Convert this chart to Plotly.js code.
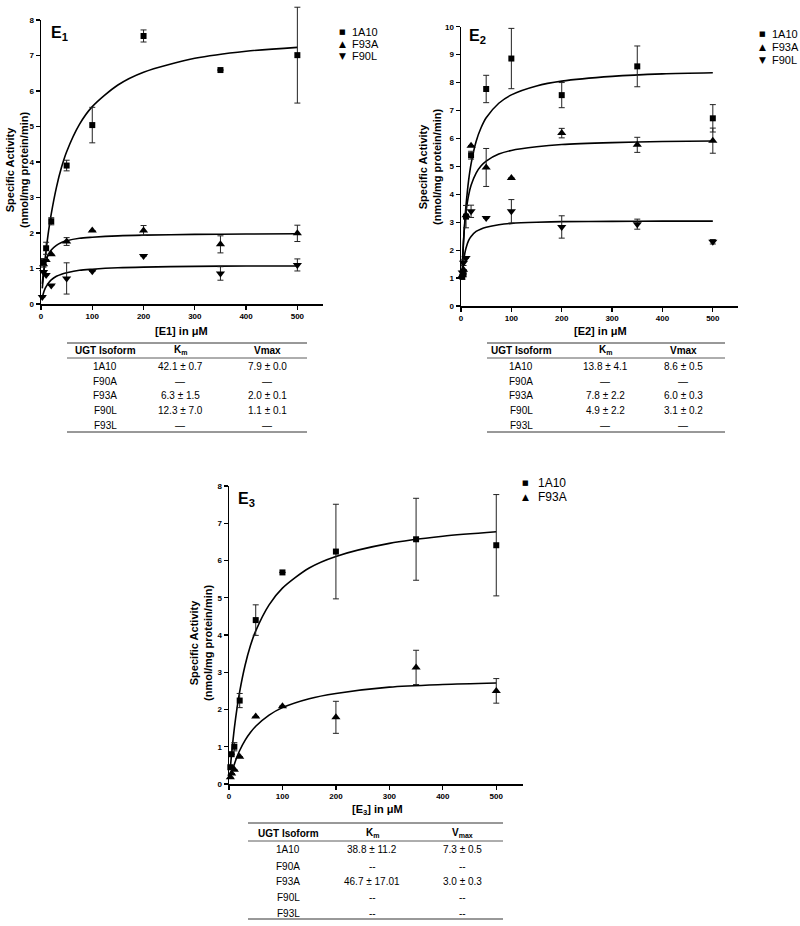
<!DOCTYPE html>
<html>
<head>
<meta charset="utf-8">
<script src="https://cdn.plot.ly/plotly-3.0.1.min.js"></script>
<style>
  html, body { margin: 0; padding: 0; background: #fff; }
  #chart { width: 800px; height: 926px; }
</style>
</head>
<body>
<div id="chart"></div>
<script>
// Substrate concentrations (uM)
const conc = [2.5, 5, 10, 20, 50, 100, 200, 350, 500];

// Panel E1 measured activity (nmol/mg protein/min) and SEM
const e1_1A10 = [null, 1.18, 1.57, 2.33, 3.90, 5.04, 7.55, 6.59, 7.01];
const e1_1A10_err = [0, 0.10, 0.17, 0.10, 0.15, 0.50, 0.17, 0, 1.35];
const e1_F93A = [null, 1.12, 1.24, 1.40, 1.76, 2.07, 2.07, 1.68, 1.99];
const e1_F93A_err = [0, 0.08, 0, 0, 0.11, 0, 0.14, 0.24, 0.23];
const e1_F90L = [0.20, 0.90, 0.82, 0.52, 0.72, 0.92, 1.35, 0.86, 1.10];
const e1_F90L_err = [0, 0, 0, 0, 0.44, 0, 0, 0.19, 0.17];

// Panel E2
const e2_1A10 = [1.05, 1.15, 3.20, 5.40, 7.77, 8.86, 7.55, 8.58, 6.72];
const e2_1A10_err = [0.10, 0, 0.40, 0.14, 0.49, 1.08, 0.45, 0.73, 0.49];
const e2_F93A = [1.10, 1.30, 3.25, 5.74, 4.96, 4.58, 6.19, 5.77, 5.92];
const e2_F93A_err = [0, 0, 0, 0, 0.68, 0, 0.17, 0.27, 0.45];
const e2_F90L = [1.20, 1.55, 1.72, 3.39, 3.15, 3.39, 2.83, 2.93, 2.30];
const e2_F90L_err = [0, 0.10, 0, 0.22, 0, 0.42, 0.40, 0.18, 0.08];

// Panel E3
const e3_1A10 = [0.45, 0.80, 1.00, 2.24, 4.40, 5.68, 6.24, 6.57, 6.41];
const e3_1A10_err = [0, 0, 0.11, 0.19, 0.41, 0, 1.27, 1.10, 1.36];
const e3_F93A = [0.18, 0.28, 0.38, 0.73, 1.81, 2.09, 1.79, 3.13, 2.50];
const e3_F93A_err = [0, 0, 0, 0, 0, 0, 0.43, 0.46, 0.33];

// Fitted curves
const fitX = [2.5, 5, 7.5, 10, 15, 20, 30, 40, 50, 75, 100, 150, 200, 300, 400, 500];
const fit_e1_1A10 = [0.44, 0.84, 1.19, 1.52, 2.08, 2.54, 3.28, 3.85, 4.29, 5.06, 5.56, 6.17, 6.53, 6.92, 7.12, 7.23];
const fit_e1_F93A = [0.57, 0.89, 1.09, 1.23, 1.41, 1.52, 1.65, 1.73, 1.78, 1.85, 1.88, 1.92, 1.94, 1.96, 1.97, 1.98];
const fit_e1_F90L = [0.19, 0.32, 0.42, 0.49, 0.60, 0.68, 0.78, 0.84, 0.88, 0.95, 0.98, 1.02, 1.04, 1.06, 1.07, 1.07];
const fit_e2_1A10 = [1.32, 2.29, 3.03, 3.61, 4.48, 5.09, 5.89, 6.39, 6.74, 7.26, 7.56, 7.88, 8.05, 8.22, 8.31, 8.35];
const fit_e2_F93A = [1.46, 2.34, 2.94, 3.37, 3.95, 4.32, 4.76, 5.02, 5.19, 5.44, 5.57, 5.70, 5.78, 5.85, 5.89, 5.91];
const fit_e2_F90L = [1.05, 1.57, 1.88, 2.08, 2.34, 2.49, 2.67, 2.76, 2.82, 2.91, 2.96, 3.00, 3.02, 3.03, 3.04, 3.04];
const fit_e3_1A10 = [0.44, 0.83, 1.18, 1.50, 2.04, 2.48, 3.18, 3.71, 4.11, 4.81, 5.26, 5.80, 6.11, 6.46, 6.65, 6.77];
const fit_e3_F93A = [0.15, 0.29, 0.42, 0.53, 0.73, 0.90, 1.17, 1.38, 1.55, 1.85, 2.05, 2.29, 2.43, 2.60, 2.67, 2.71];

// Kinetic parameter tables
const isoforms = ['1A10', 'F90A', 'F93A', 'F90L', 'F93L'];
const e1_km = ['42.1 ± 0.7', '—', '6.3 ± 1.5', '12.3 ± 7.0', '—'];
const e1_vmax = ['7.9 ± 0.0', '—', '2.0 ± 0.1', '1.1 ± 0.1', '—'];
const e2_km = ['13.8 ± 4.1', '—', '7.8 ± 2.2', '4.9 ± 2.2', '—'];
const e2_vmax = ['8.6 ± 0.5', '—', '6.0 ± 0.3', '3.1 ± 0.2', '—'];
const e3_km = ['38.8 ± 11.2', '--', '46.7 ± 17.01', '--', '--'];
const e3_vmax = ['7.3 ± 0.5', '--', '3.0 ± 0.3', '--', '--'];

const W = 800, H = 926;
const FONT = 'Liberation Sans, Arial, sans-serif';
const px = x => x / W;
const py = y => 1 - y / H;

const symbols = { '1A10': 'square', 'F93A': 'triangle-up', 'F90L': 'triangle-down' };
const sizes = { '1A10': 6, 'F93A': 8, 'F90L': 8 };

function points(name, y, err, xa, ya) {
  return {
    x: conc, y: y, name: name,
    xaxis: xa, yaxis: ya,
    type: 'scatter', mode: 'markers', cliponaxis: false, showlegend: false,
    marker: { symbol: symbols[name], size: sizes[name], color: '#000' },
    error_y: { type: 'data', array: err, visible: true, color: '#222', thickness: 1, width: 3 }
  };
}

function curve(y, xa, ya) {
  return {
    x: fitX, y: y, xaxis: xa, yaxis: ya,
    type: 'scatter', mode: 'lines', showlegend: false, hoverinfo: 'skip',
    line: { color: '#000', width: 1.6, shape: 'spline', smoothing: 0.8 }
  };
}

const traces = [
  curve(fit_e1_1A10, 'x', 'y'), curve(fit_e1_F93A, 'x', 'y'), curve(fit_e1_F90L, 'x', 'y'),
  // 1A10 on a taller twin axis so its top error bar can pass the axis end
  points('1A10', e1_1A10, e1_1A10_err, 'x', 'y4'),
  points('F93A', e1_F93A, e1_F93A_err, 'x', 'y'),
  points('F90L', e1_F90L, e1_F90L_err, 'x', 'y'),
  curve(fit_e2_1A10, 'x2', 'y2'), curve(fit_e2_F93A, 'x2', 'y2'), curve(fit_e2_F90L, 'x2', 'y2'),
  points('1A10', e2_1A10, e2_1A10_err, 'x2', 'y2'),
  points('F93A', e2_F93A, e2_F93A_err, 'x2', 'y2'),
  points('F90L', e2_F90L, e2_F90L_err, 'x2', 'y2'),
  curve(fit_e3_1A10, 'x3', 'y3'), curve(fit_e3_F93A, 'x3', 'y3'),
  points('1A10', e3_1A10, e3_1A10_err, 'x3', 'y3'),
  points('F93A', e3_F93A, e3_F93A_err, 'x3', 'y3')
];

function xAxis(domain, anchor) {
  return {
    domain: domain, anchor: anchor, range: [0, 550],
    tickmode: 'linear', tick0: 0, dtick: 100,
    showline: true, linecolor: '#000', linewidth: 1.5,
    ticks: 'outside', ticklen: 4, tickwidth: 1.2, tickcolor: '#000',
    showgrid: false, zeroline: false,
    tickfont: { family: FONT, size: 8, weight: 'bold', color: '#000' }
  };
}
function yAxis(domain, anchor, top) {
  return {
    domain: domain, anchor: anchor, range: [0, top],
    tickmode: 'linear', tick0: 0, dtick: 1,
    showline: true, linecolor: '#000', linewidth: 1.5,
    ticks: 'outside', ticklen: 4, tickwidth: 1.2, tickcolor: '#000',
    showgrid: false, zeroline: false,
    tickfont: { family: FONT, size: 8, weight: 'bold', color: '#000' }
  };
}

const annotations = [];
const shapes = [];

function ann(x, y, text, size, opts) {
  annotations.push(Object.assign({
    xref: 'paper', yref: 'paper', x: px(x), y: py(y), text: text,
    showarrow: false, xanchor: 'center', yanchor: 'middle',
    font: { family: FONT, size: size, color: '#000' }
  }, opts || {}));
}

// Panel labels
ann(49, 33, '<b>E<sub>1</sub></b>', 16, { xanchor: 'left' });
ann(467, 37, '<b>E<sub>2</sub></b>', 16, { xanchor: 'left' });
ann(236, 499, '<b>E<sub>3</sub></b>', 16, { xanchor: 'left' });

// Y axis titles
const yTitle = '<b>Specific Activity<br>(nmol/mg protein/min)</b>';
ann(17, 170, yTitle, 11, { textangle: -90 });
ann(430, 167, yTitle, 11, { textangle: -90 });
ann(201, 643, yTitle, 11, { textangle: -90 });

// X axis titles
ann(181, 331, '<b>[E1] in μM</b>', 11);
ann(600, 331, '<b>[E2] in μM</b>', 11);
ann(377, 810, '<b>[E<sub>3</sub>] in μM</b>', 11);

// Legends
const glyph = { '1A10': '■', 'F93A': '▲', 'F90L': '▼' };
function legend(names, gx, tx, ys, size) {
  names.forEach((n, i) => {
    const gs = n === '1A10' ? 7 : 9;
    ann(gx, ys[i], glyph[n], gs, { font: { family: 'DejaVu Sans', size: gs, color: '#000' } });
    ann(tx, ys[i], n, size, { xanchor: 'left' });
  });
}
legend(['1A10', 'F93A', 'F90L'], 342, 350, [32, 44, 56], 11);
legend(['1A10', 'F93A', 'F90L'], 762, 770, [34, 47, 60], 11);
legend(['1A10', 'F93A'], 525, 536, [483, 497], 12);

// Tables
function table(cols, x0, x1, yTop, yHead, yHeadLine, rowYs, yBottom, heads, km, vmax) {
  [yTop, yHeadLine, yBottom].forEach((y, i) => {
    shapes.push({ type: 'line', xref: 'paper', yref: 'paper', x0: px(x0), x1: px(x1), y0: py(y), y1: py(y),
      line: { color: '#333', width: i === 1 ? 0.8 : 1 } });
  });
  heads.forEach((h, i) => ann(cols[i], yHead, '<b>' + h + '</b>', 10));
  isoforms.forEach((iso, r) => {
    ann(cols[0], rowYs[r], iso, 10);
    ann(cols[1], rowYs[r], km[r], 10);
    ann(cols[2], rowYs[r], vmax[r], 10);
  });
}
table([105, 180, 267], 67, 307, 343, 350, 358, [366, 381, 395, 410, 425], 432,
  ['UGT Isoform', 'K<sub>m</sub>', 'Vmax'], e1_km, e1_vmax);
table([521, 605, 683], 487, 725, 343, 350, 358, [366, 381, 395, 410, 425], 432,
  ['UGT Isoform', 'K<sub>m</sub>', 'Vmax'], e2_km, e2_vmax);
table([288, 372, 462], 248, 503, 823, 833, 841, [849, 866, 881, 897, 913], 919,
  ['UGT Isoform', 'K<sub>m</sub>', 'V<sub>max</sub>'], e3_km, e3_vmax);

// E1 plot frame: y = 0 at 304 px, y = 8 at 20 px; twin axis reaches 4 px with the same scale
const e1Bottom = 304, e1Top = 20, e1TwinTop = 4;
const e1TwinRange = 8 * (e1Bottom - e1TwinTop) / (e1Bottom - e1Top);

const twin = yAxis([py(e1Bottom), py(e1TwinTop)], 'x', e1TwinRange);
Object.assign(twin, { visible: false, showline: false, ticks: '', showticklabels: false });

const layout = {
  width: W, height: H,
  margin: { l: 0, r: 0, t: 0, b: 0 },
  paper_bgcolor: '#fff', plot_bgcolor: 'rgba(0,0,0,0)',
  showlegend: false,
  font: { family: FONT, color: '#000' },
  xaxis: xAxis([px(41), px(323)], 'y'),
  yaxis: yAxis([py(e1Bottom), py(e1Top)], 'x', 8),
  xaxis2: xAxis([px(461), px(738)], 'y2'),
  yaxis2: yAxis([py(306), py(26.7)], 'x2', 10),
  xaxis3: xAxis([px(229), px(523)], 'y3'),
  yaxis3: yAxis([py(784), py(486)], 'x3', 8),
  yaxis4: twin,
  annotations: annotations,
  shapes: shapes
};

Plotly.newPlot('chart', traces, layout, { staticPlot: true });
</script>
</body>
</html>
